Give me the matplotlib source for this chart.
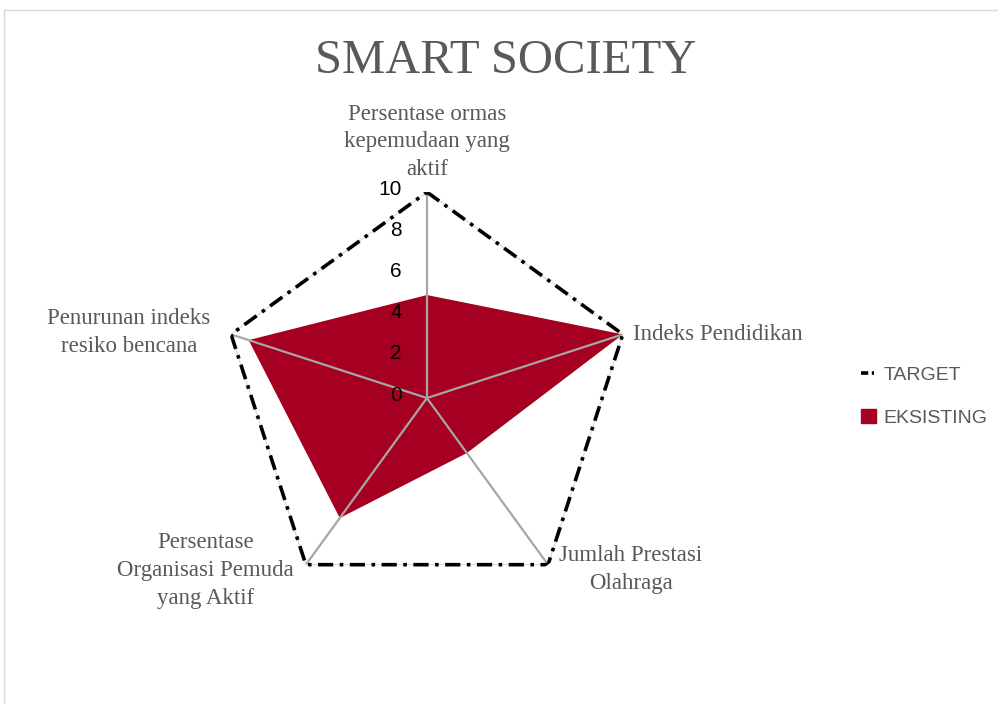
import numpy as np
import matplotlib
matplotlib.use("Agg")
import matplotlib.pyplot as plt
from matplotlib.lines import Line2D
from matplotlib.patches import Patch, Rectangle
from matplotlib.transforms import offset_copy

categories = [
    "Persentase ormas\nkepemudaan yang\naktif",
    "Indeks Pendidikan",
    "Jumlah Prestasi\nOlahraga",
    "Persentase\nOrganisasi Pemuda\nyang Aktif",
    "Penurunan indeks\nresiko bencana",
]
target = [10, 10, 10, 10, 10]
eksisting = [5, 10, 3.3, 7.2, 9.1]
r_ticks = [0, 2, 4, 6, 8, 10]

# label offsets in pixels (x, y), alignment
label_pos = [
    ((0, 12), "center", "bottom"),
    ((10, 0), "left", "center"),
    ((83, -5), "center", "center"),
    ((-100, -6), "center", "center"),
    ((-102, 2), "center", "center"),
]

RED = "#A50021"
GRAY_TXT = "#595959"


def draw():
    fig = plt.figure(figsize=(9.98, 7.04), dpi=100)
    fig.patches.append(Rectangle((4 / 998, -0.02), 1.2, 1 - 10 / 704 + 0.02,
                                 transform=fig.transFigure, fill=False,
                                 edgecolor="#D9D9D9", linewidth=1.0))
    ax = fig.add_axes([0.2214, 0.1420, 0.4128, 0.5852], projection="polar")
    ax.set_theta_offset(np.pi / 2)
    ax.set_theta_direction(-1)
    ax.set_ylim(0, 10)
    ax.grid(False)
    ax.spines["polar"].set_visible(False)
    ax.set_xticks([])
    ax.set_yticks([])
    ax.patch.set_alpha(0)

    n = len(categories)
    theta = np.linspace(0, 2 * np.pi, n, endpoint=False)
    th_closed = np.append(theta, theta[0])

    ax.fill(th_closed, eksisting + eksisting[:1], color=RED, zorder=2,
            linewidth=0)
    for t in theta:
        ax.plot([t, t], [0, 10], color="#A6A6A6", linewidth=1.6, zorder=3)
    ax.plot(th_closed, target + target[:1], color="#D9D9D9", linewidth=0.8,
            zorder=3)
    ax.plot(th_closed, target + target[:1], color="black", linewidth=2.6,
            linestyle=(0, (4.2, 1.8, 1.0, 1.8)), zorder=4)

    for v in r_ticks:
        tr = offset_copy(ax.transData, fig=fig, x=-25, y=3, units="dots")
        ax.text(0, v, str(v), transform=tr, ha="right", va="center",
                fontsize=15, family="Liberation Sans", color="black")

    for t, lab, ((dx, dy), ha, va) in zip(theta, categories, label_pos):
        tr = offset_copy(ax.transData, fig=fig, x=dx, y=dy, units="dots")
        ax.text(t, 10, lab, transform=tr, ha=ha, va=va, fontsize=16.5,
                family="Liberation Serif", color=GRAY_TXT, linespacing=1.42,
                multialignment="center")

    fig.text(0.507, 0.914, "SMART SOCIETY", ha="center", va="center",
             fontsize=35, family="Liberation Serif", color=GRAY_TXT)

    handles = [
        Line2D([0], [0], color="black", linewidth=2.6,
               linestyle=(0, (2, 1, 0.6, 1))),
        Patch(facecolor=RED, edgecolor=RED),
    ]
    fig.legend(handles, ["TARGET", "EKSISTING"], loc="center left",
               bbox_to_anchor=(0.845, 0.437), frameon=False,
               prop={"family": "Liberation Sans", "size": 14},
               labelcolor=GRAY_TXT, handlelength=0.8, handletextpad=0.35,
               labelspacing=1.3)

    fig.savefig("out.png", dpi=100)


def main():
    draw()


if __name__ == "__main__":
    main()
